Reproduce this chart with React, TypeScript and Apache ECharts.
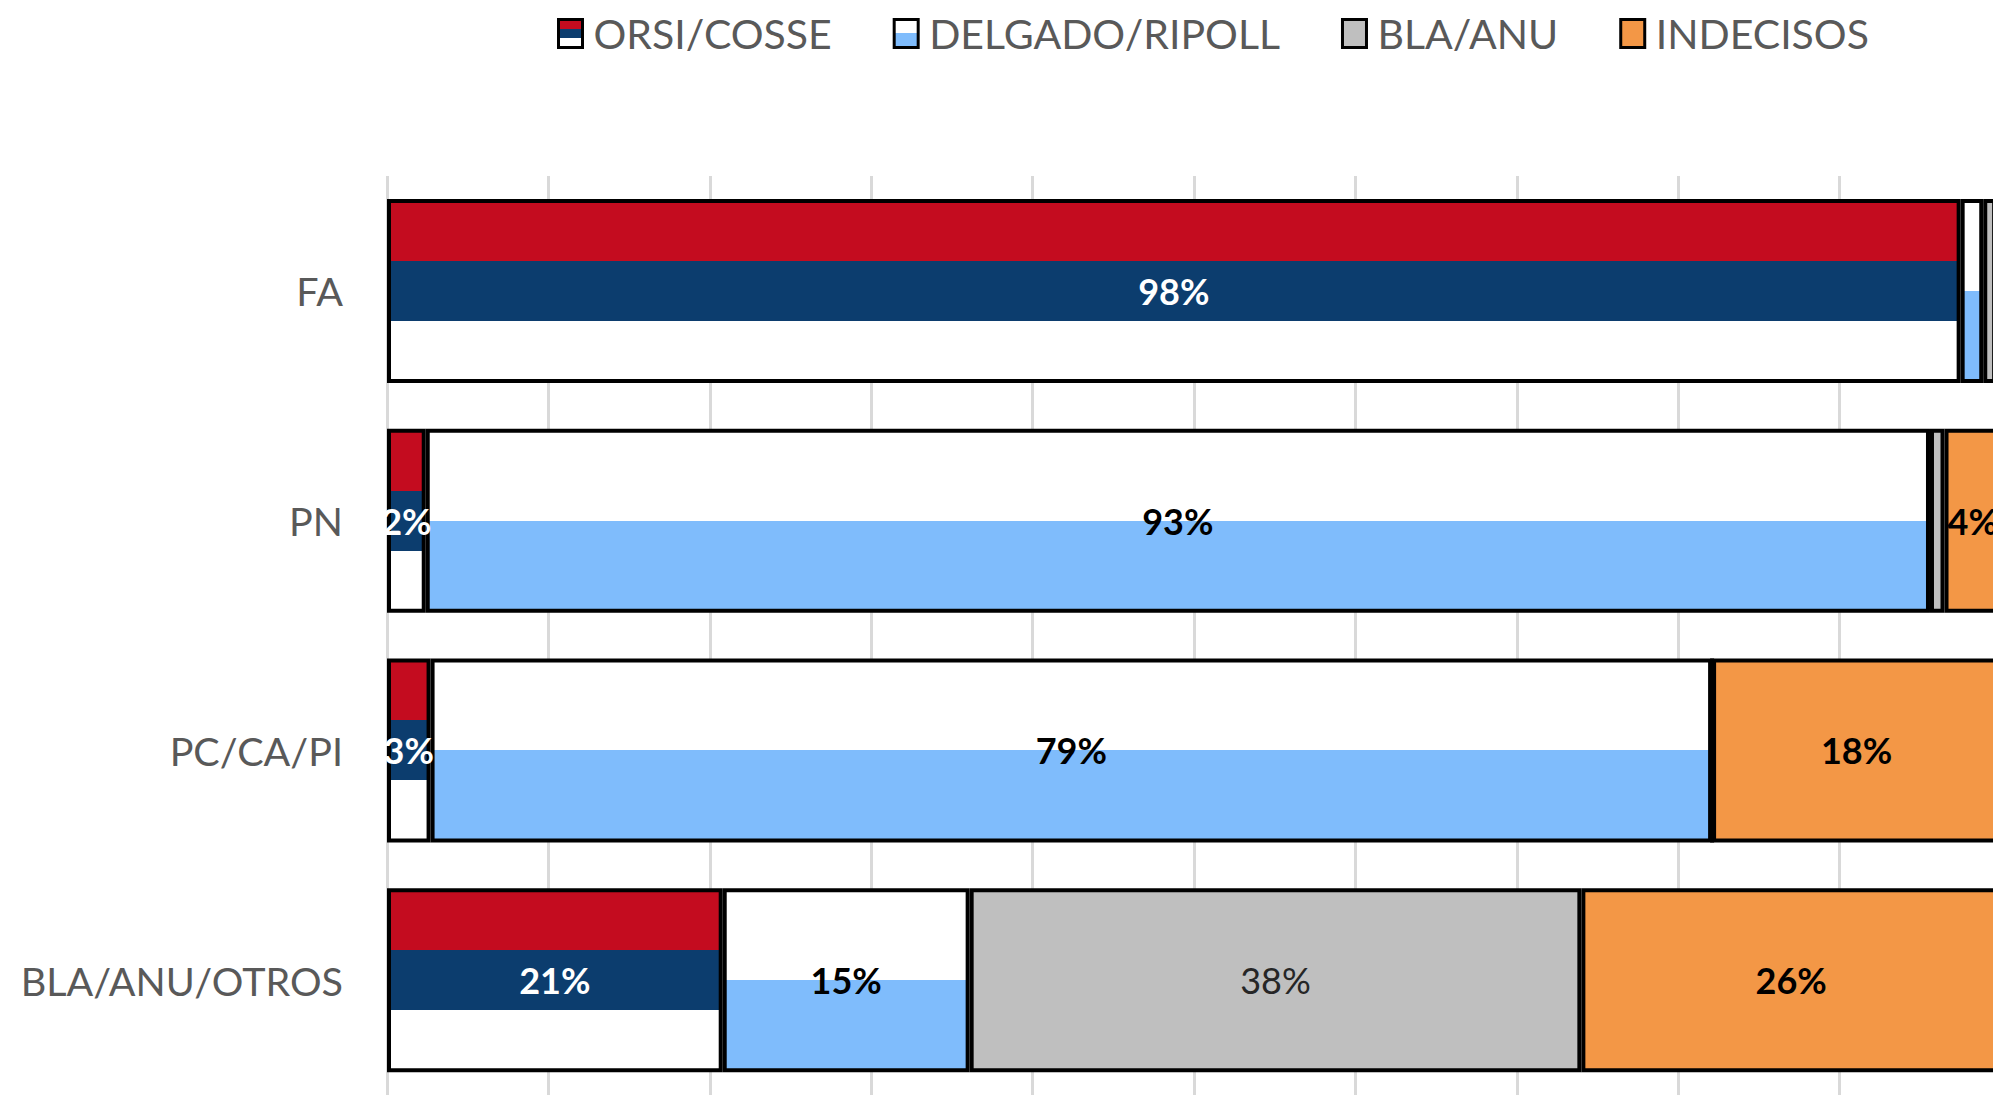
import React, { useEffect, useRef } from "react";
import * as echarts from "echarts";

const categories = ["FA", "PN", "PC/CA/PI", "BLA/ANU/OTROS"];
const seriesNames = ["ORSI/COSSE", "DELGADO/RIPOLL", "BLA/ANU", "INDECISOS"];
const orsiCosse = [97.5, 2.4, 2.7, 20.8];
const delgadoRipoll = [1.4, 93.2, 79.4, 15.3];
const blaAnu = [0.8, 0.9, 0, 37.9];
const indecisos = [0.3, 3.5, 17.9, 26.0];

const RED = "#C40C1F";
const NAVY = "#0C3D6E";
const LIGHTBLUE = "#7FBCFC";
const GRAY = "#BFBFBF";
const ORANGE = "#F39746";
const FONT = "Lato";

const hardGradient = (bands: string[]) => {
  const stops: { offset: number; color: string }[] = [];
  bands.forEach((c, i) => {
    stops.push({ offset: i / bands.length, color: c });
    stops.push({ offset: (i + 1) / bands.length, color: c });
  });
  return new echarts.graphic.LinearGradient(0, 0, 0, 1, stops);
};

export default function App() {
  const ref = useRef<HTMLDivElement>(null);
  useEffect(() => {
    document.body.style.margin = "0";
    document.body.style.overflow = "hidden";
    document.documentElement.style.overflow = "hidden";
    const chart = echarts.init(ref.current!, null, { renderer: "svg" });
    const fmt = (p: any) => (p.value >= 2 ? Math.round(p.value) + "%" : "");
    const baseLabel = {
      show: true,
      position: "inside",
      formatter: fmt,
      fontFamily: FONT,
      fontSize: 36,
      fontWeight: "bold",
      color: "#000",
    };
    const mk = (name: string, data: number[], color: any, label: any) => ({
      name,
      type: "bar",
      stack: "total",
      data,
      barWidth: 184,
      itemStyle: { color, borderColor: "#000", borderWidth: 4 },
      label: { ...baseLabel, ...label },
      emphasis: { disabled: true },
    });
    chart.setOption({
      animation: false,
      legend: {
        data: seriesNames,
        left: 552,
        top: 8,
        icon: "rect",
        itemWidth: 24,
        itemHeight: 28,
        itemGap: 61,
        itemStyle: { borderWidth: 3, borderColor: "#000" },
        textStyle: { fontFamily: FONT, fontSize: 41, color: "#595959", padding: [0, 0, 0, 6] },
      },
      grid: { left: 387, right: 19, top: 176, bottom: 3, containLabel: false },
      xAxis: {
        type: "value",
        min: 0,
        max: 100,
        interval: 10,
        axisLabel: { show: false },
        axisLine: { show: false },
        axisTick: { show: false },
        splitLine: { show: true, lineStyle: { color: "#D9D9D9", width: 3 } },
      },
      yAxis: {
        type: "category",
        data: categories,
        inverse: true,
        axisLine: { show: false },
        axisTick: { show: false },
        axisLabel: { fontFamily: FONT, fontSize: 39.5, color: "#595959", margin: 44 },
      },
      series: [
        mk(seriesNames[0], orsiCosse, hardGradient([RED, NAVY, "#FFFFFF"]), { color: "#FFFFFF" }),
        mk(seriesNames[1], delgadoRipoll, hardGradient(["#FFFFFF", LIGHTBLUE]), {}),
        mk(seriesNames[2], blaAnu, GRAY, { fontWeight: "normal", color: "#262626" }),
        mk(seriesNames[3], indecisos, ORANGE, {}),
      ],
    });
    return () => chart.dispose();
  }, []);
  return <div ref={ref} style={{ width: 2020, height: 1098 }} />;
}
